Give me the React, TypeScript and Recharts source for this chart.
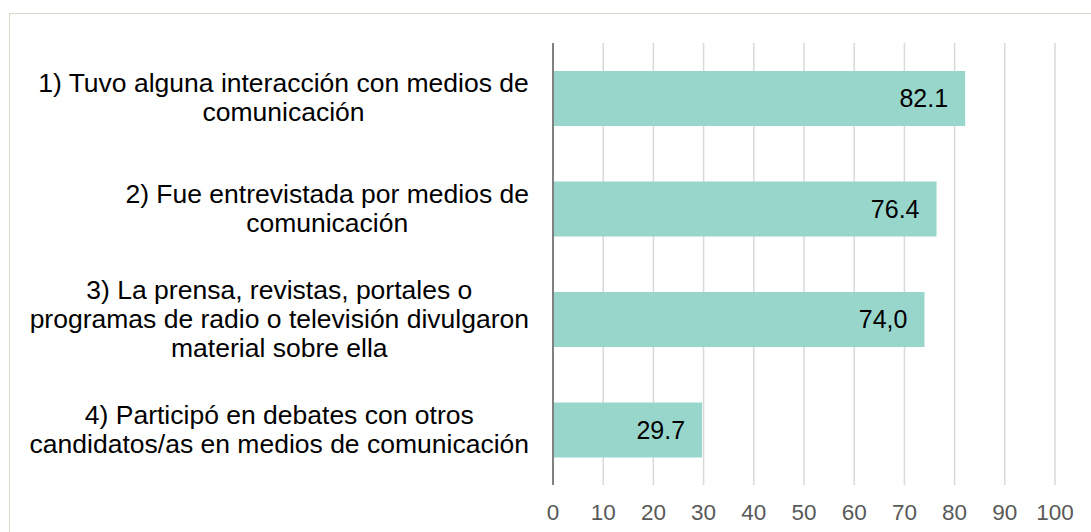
import { BarChart, Bar, XAxis, YAxis, CartesianGrid, LabelList } from 'recharts'

const categories = [
    '1) Tuvo alguna interacción con medios de\ncomunicación',
    '2) Fue entrevistada por medios de\ncomunicación',
    '3) La prensa, revistas, portales o\nprogramas de radio o televisión divulgaron\nmaterial sobre ella',
    '4) Participó en debates con otros\ncandidatos/as en medios de comunicación',
]
const values = [82.1, 76.4, 74.0, 29.7]
const valueLabels = ['82.1', '76.4', '74,0', '29.7']
const xTicks = [0, 10, 20, 30, 40, 50, 60, 70, 80, 90, 100]

const data = categories.map((name, i) => ({ name, value: values[i], label: valueLabels[i] }))

const FONT = "'Liberation Sans', Arial, sans-serif"
const LABEL_SIZE = 26.5
const LINE_H = 29
const LABEL_RIGHT = 529

let ctx: CanvasRenderingContext2D | null = null
function textWidth(s: string) {
    if (!ctx) ctx = document.createElement('canvas').getContext('2d')
    if (!ctx) return s.length * 12
    ctx.font = `${LABEL_SIZE}px ${FONT}`
    return ctx.measureText(s).width
}

// multi-line category label, lines centred inside a right-aligned block
function CategoryTick(props: any) {
    const { y, payload } = props
    const lines: string[] = String(payload.value).split('\n')
    const blockW = Math.max(...lines.map(textWidth))
    const cx = LABEL_RIGHT - blockW / 2
    return (
        <g>
            {lines.map((line, i) => (
                <text
                    key={i}
                    x={cx}
                    y={y - 1 + (i - (lines.length - 1) / 2) * LINE_H}
                    dy="0.35em"
                    textAnchor="middle"
                    fill="#000"
                    fontSize={LABEL_SIZE}
                    fontFamily={FONT}
                >
                    {line}
                </text>
            ))}
        </g>
    )
}

export default function App() {
    return (
        <div style={{ position: 'absolute', left: 0, top: 0, width: 1091, height: 532, overflow: 'hidden', background: '#fff' }}>
            <div style={{ position: 'absolute', left: 9, top: 13, width: 1200, height: 700, border: '1.5px solid #d9d8c8' }} />
            <div style={{ position: 'absolute', left: 0, top: 0 }}>
                <BarChart
                    width={1091}
                    height={532}
                    data={data}
                    layout="vertical"
                    margin={{ top: 43, right: 36, left: 0, bottom: 0 }}
                >
                    <CartesianGrid horizontal={false} stroke="#d9d9d9" strokeWidth={1.5} />
                    <XAxis
                        type="number"
                        domain={[0, 100]}
                        ticks={xTicks}
                        height={47}
                        axisLine={false}
                        tickLine={false}
                        tickMargin={13}
                        tick={{ fill: '#595959', fontSize: 22.5, fontFamily: FONT }}
                    />
                    <YAxis
                        dataKey="name"
                        type="category"
                        width={553}
                        axisLine={{ stroke: '#808080', strokeWidth: 2 }}
                        tickLine={false}
                        tick={<CategoryTick />}
                        interval={0}
                    />
                    <Bar dataKey="value" fill="#98d6cc" barSize={55} isAnimationActive={false}>
                        <LabelList
                            dataKey="label"
                            position="insideRight"
                            offset={17}
                            fill="#000"
                            fontSize={25}
                            fontFamily={FONT}
                        />
                    </Bar>
                </BarChart>
            </div>
        </div>
    )
}
